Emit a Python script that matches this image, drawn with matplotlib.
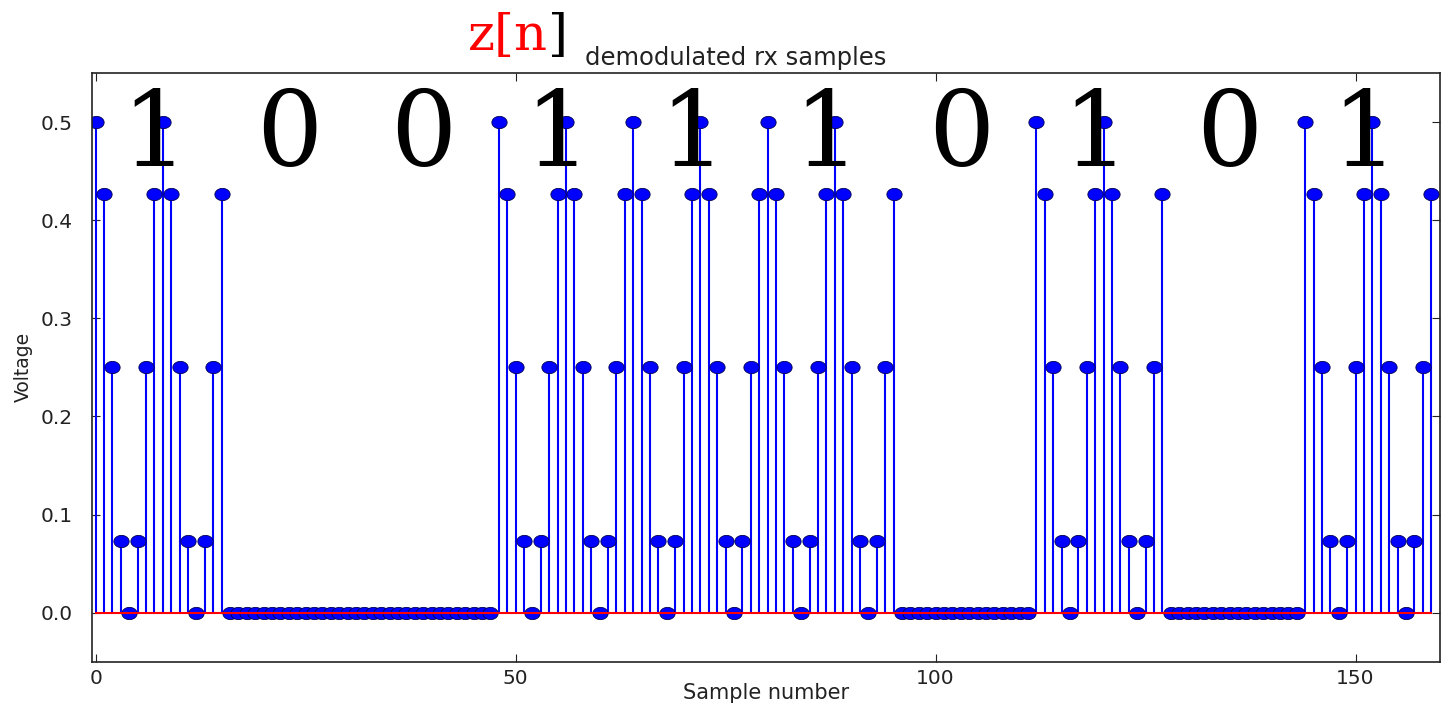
import numpy as np
import matplotlib
matplotlib.use("Agg")
import matplotlib.pyplot as plt
from matplotlib.path import Path

# one bit lasts 16 samples; "1" carries this pulse, "0" is silent
bits = [1, 0, 0, 1, 1, 1, 0, 1, 0, 1]
pulse_one = [0.5, 0.427, 0.25, 0.073, 0.0, 0.073, 0.25, 0.427,
             0.5, 0.427, 0.25, 0.073, 0.0, 0.073, 0.25, 0.427]
pulse_zero = [0.0] * 16

samples = []
for b in bits:
    samples += pulse_one if b else pulse_zero
samples = np.array(samples)
n = np.arange(len(samples))

# slightly wide ellipse marker, the reference is stretched sideways
t = np.linspace(0, 2 * np.pi, 41)
ell = Path(np.column_stack([1.25 * np.cos(t), np.sin(t)]), closed=True)

fig = plt.figure(figsize=(14.41, 7.1), dpi=100)
ax = fig.add_axes([0.064, 0.068, 0.935, 0.829])

markerline, stemlines, baseline = ax.stem(n, samples)
plt.setp(stemlines, color='blue', linewidth=1.5)
plt.setp(markerline, color='blue', marker=ell, markersize=11,
         markeredgecolor='#000050', markeredgewidth=0.6)
plt.setp(baseline, color='red', linewidth=1.5)

ax.set_xlim(-0.4, 160)
ax.set_ylim(-0.05, 0.55)
ax.set_xticks([0, 50, 100, 150])
ax.set_yticks([0.0, 0.1, 0.2, 0.3, 0.4, 0.5])
ax.set_yticklabels(['0.0', '0.1', '0.2', '0.3', '0.4', '0.5'])
ax.tick_params(direction='in', top=True, right=True, length=6,
               labelsize=14.5, colors='#222222')
ax.tick_params(axis='y', pad=14)
ax.tick_params(axis='x', pad=5)
for s in ax.spines.values():
    s.set_linewidth(1.2)
    s.set_color('#222222')

for i, b in enumerate(bits):
    ax.text(7 + 16 * i, 0.455, str(b), family='DejaVu Serif', fontsize=75,
            ha='center', va='baseline', color='black')

ax.set_xlabel('Sample number', fontsize=15, color='#222222')
ax.xaxis.set_label_coords(0.5, -0.037)
ax.set_ylabel('Voltage', fontsize=13.5, color='#222222')
ax.yaxis.set_label_coords(-0.051, 0.5)
ax.yaxis.label.set_verticalalignment('center')

fig.text(0.406, 0.9085, 'demodulated rx samples', fontsize=17.5,
         ha='left', va='baseline', color='#222222')

zt = fig.text(0.3248, 0.93, 'z[n', family='DejaVu Serif', fontsize=37,
              color='red', ha='left', va='baseline')
fig.canvas.draw()
bb = zt.get_window_extent().transformed(fig.transFigure.inverted())
fig.text(bb.x1, 0.93, ']', family='DejaVu Serif', fontsize=37,
         color='black', ha='left', va='baseline')

fig.savefig('out.png', dpi=100)
